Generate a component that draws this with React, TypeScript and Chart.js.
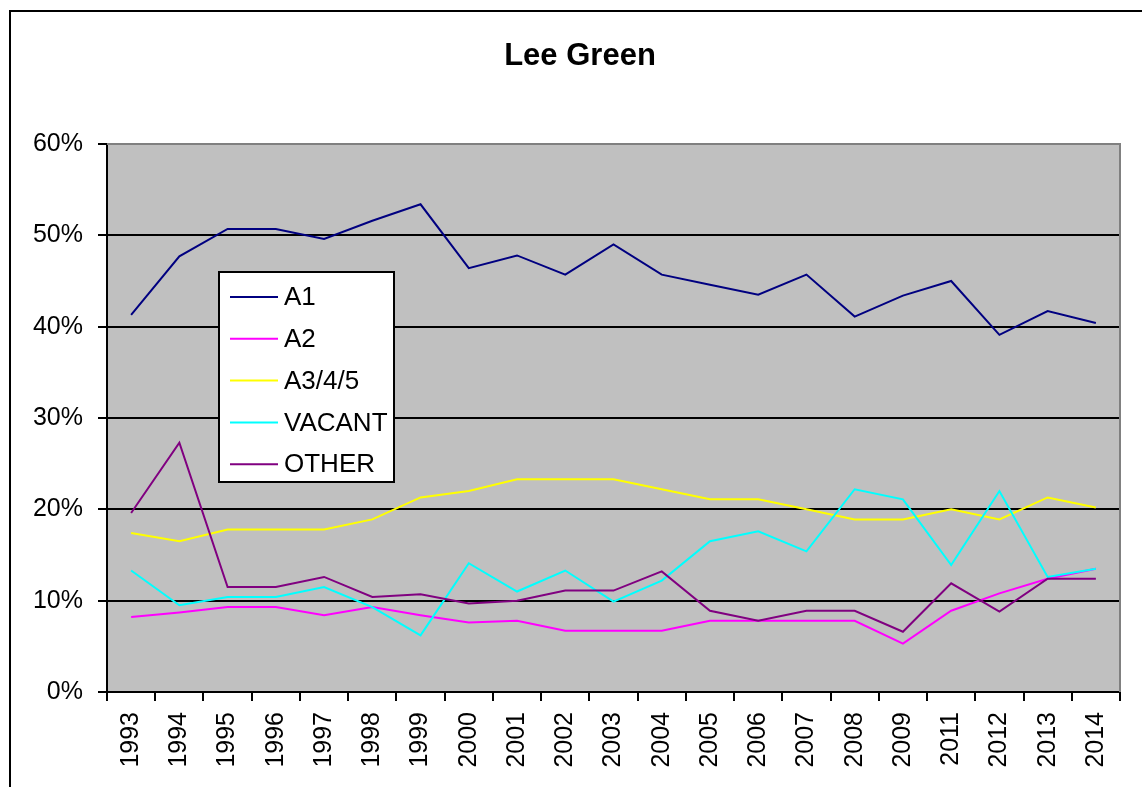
import React, { useEffect, useRef } from "react";
import { Chart, registerables } from "chart.js";

Chart.register(...registerables);

const YEARS = ["1993","1994","1995","1996","1997","1998","1999","2000","2001","2002","2003","2004","2005","2006","2007","2008","2009","2011","2012","2013","2014"];
const A1 = [41.3,47.7,50.7,50.7,49.6,51.6,53.4,46.4,47.8,45.7,49.0,45.7,44.6,43.5,45.7,41.1,43.4,45.0,39.1,41.7,40.4];
const A2 = [8.2,8.7,9.3,9.3,8.4,9.3,8.4,7.6,7.8,6.7,6.7,6.7,7.8,7.8,7.8,7.8,5.3,8.9,10.8,12.4,13.5];
const A345 = [17.4,16.5,17.8,17.8,17.8,18.9,21.3,22.0,23.3,23.3,23.3,22.2,21.1,21.1,20.0,18.9,18.9,20.0,18.9,21.3,20.2];
const VACANT = [13.3,9.5,10.4,10.4,11.5,9.3,6.2,14.1,11.0,13.3,9.9,12.2,16.5,17.6,15.4,22.2,21.1,13.9,22.0,12.6,13.5];
const OTHER = [19.6,27.3,11.5,11.5,12.6,10.4,10.7,9.7,10.0,11.1,11.1,13.2,8.9,7.8,8.9,8.9,6.6,11.9,8.8,12.4,12.4];
const SERIES_NAMES = ["A1", "A2", "A3/4/5", "VACANT", "OTHER"];
const SERIES_COLORS = ["#000080", "#FF00FF", "#FFFF00", "#00FFFF", "#800080"];
const Y_MIN = 0;
const Y_MAX = 60;
const Y_STEP = 10;
const TITLE = "Lee Green";

const FONT = '"Liberation Sans", Arial, Helvetica, sans-serif';

const framePlugin = {
  id: "frame",
  beforeDraw(chart: any) {
    const { ctx, chartArea } = chart;
    ctx.save();
    ctx.fillStyle = "#C0C0C0";
    ctx.fillRect(chartArea.left, chartArea.top, chartArea.right - chartArea.left, chartArea.bottom - chartArea.top);
    ctx.strokeStyle = "#000";
    ctx.lineWidth = 2;
    ctx.beginPath();
    ctx.moveTo(10, chart.height);
    ctx.lineTo(10, 11);
    ctx.lineTo(chart.width, 11);
    ctx.stroke();
    // title, centred over the outer frame
    ctx.fillStyle = "#000";
    ctx.font = `bold 31px ${FONT}`;
    ctx.textAlign = "center";
    ctx.textBaseline = "middle";
    ctx.fillText(TITLE, 580, 56);
    ctx.restore();
  },
  afterDatasetsDraw(chart: any) {
    const { ctx, chartArea } = chart;
    ctx.save();
    ctx.strokeStyle = "#808080";
    ctx.lineWidth = 2;
    ctx.beginPath();
    ctx.moveTo(chartArea.left, chartArea.top);
    ctx.lineTo(chartArea.right, chartArea.top);
    ctx.lineTo(chartArea.right, chartArea.bottom);
    ctx.stroke();
    ctx.restore();
  },
};

const legendPlugin = {
  id: "boxLegend",
  afterDatasetsDraw(chart: any) {
    const { ctx, chartArea } = chart;
    const x = chartArea.left + 112;
    const y = chartArea.top + 128;
    const w = 175;
    const h = 210;
    ctx.save();
    ctx.fillStyle = "#FFFFFF";
    ctx.fillRect(x, y, w, h);
    ctx.strokeStyle = "#000";
    ctx.lineWidth = 2;
    ctx.strokeRect(x, y, w, h);
    ctx.font = `26px ${FONT}`;
    ctx.textBaseline = "middle";
    ctx.textAlign = "left";
    chart.data.datasets.forEach((ds: any, i: number) => {
      const cy = y + 25 + i * 41.8;
      ctx.strokeStyle = ds.borderColor;
      ctx.lineWidth = 2;
      ctx.beginPath();
      ctx.moveTo(x + 11, cy);
      ctx.lineTo(x + 59, cy);
      ctx.stroke();
      ctx.fillStyle = "#000";
      ctx.fillText(ds.label, x + 65, cy + 1);
    });
    ctx.restore();
  },
};

export default function App() {
  const canvasRef = useRef<HTMLCanvasElement | null>(null);

  useEffect(() => {
    document.body.style.margin = "0";
    const canvas = canvasRef.current;
    if (!canvas) return;
    const seriesData = [A1, A2, A345, VACANT, OTHER];
    const chart = new Chart(canvas, {
      type: "line",
      data: {
        labels: YEARS,
        datasets: seriesData.map((d, i) => ({
          label: SERIES_NAMES[i],
          data: d,
          order: seriesData.length - i,
          borderColor: SERIES_COLORS[i],
          backgroundColor: SERIES_COLORS[i],
          borderWidth: 2,
          pointRadius: 0,
          pointHoverRadius: 0,
          tension: 0,
          fill: false,
        })),
      },
      options: {
        responsive: false,
        animation: false,
        events: [],
        layout: { padding: { left: 0, right: 22, top: 144, bottom: 0 } },
        plugins: {
          legend: { display: false },
          tooltip: { enabled: false },
          title: { display: false },
        },
        scales: {
          x: {
            type: "category",
            offset: true,
            grid: {
              display: true,
              drawOnChartArea: false,
              drawTicks: true,
              tickLength: 9,
              tickColor: "#000",
              lineWidth: 2,
              offset: true,
            },
            border: { display: true, color: "#000", width: 2 },
            ticks: {
              color: "#000",
              font: { family: FONT, size: 25 },
              minRotation: 90,
              maxRotation: 90,
              autoSkip: false,
              padding: 11,
            },
            afterFit(scale: any) {
              scale.height = 95;
              scale.paddingLeft = 0;
              scale.paddingRight = 0;
            },
          },
          y: {
            min: Y_MIN,
            max: Y_MAX,
            ticks: {
              stepSize: Y_STEP,
              color: "#000",
              font: { family: FONT, size: 25 },
              padding: 15,
              callback: (v: any) => `${v}%`,
            },
            grid: {
              color: (c: any) => (c.tick && c.tick.value === Y_MAX ? "#808080" : "#000"),
              lineWidth: 2,
              tickLength: 9,
              tickColor: "#000",
            },
            border: { display: true, color: "#000", width: 2 },
            afterFit(scale: any) {
              scale.width = 107;
              scale.paddingTop = 0;
              scale.paddingBottom = 0;
            },
          },
        },
      },
      plugins: [framePlugin, legendPlugin],
    });
    return () => chart.destroy();
  }, []);

  return (
    <div style={{ width: 1142, height: 787, position: "relative", background: "#fff" }}>
      <canvas ref={canvasRef} width={1142} height={787} style={{ display: "block" }} />
    </div>
  );
}
